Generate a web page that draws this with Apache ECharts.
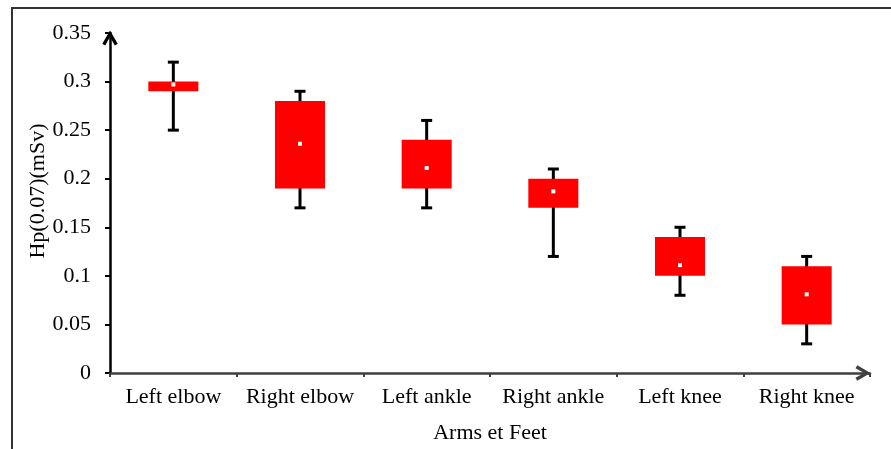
<!DOCTYPE html>
<html>
<head>
<meta charset="utf-8">
<script src="https://cdn.jsdelivr.net/npm/echarts@6/dist/echarts.min.js"></script>
<style>
html,body{margin:0;padding:0;background:#fff;}
#chart{width:891px;height:449px;}
</style>
</head>
<body>
<div id="chart"></div>
<script>
var categories = ['Left elbow', 'Right elbow', 'Left ankle', 'Right ankle', 'Left knee', 'Right knee'];
var minVals  = [0.25, 0.17, 0.17, 0.12, 0.08, 0.03];
var q1Vals   = [0.29, 0.19, 0.19, 0.17, 0.10, 0.05];
var q3Vals   = [0.30, 0.28, 0.24, 0.20, 0.14, 0.11];
var maxVals  = [0.32, 0.29, 0.26, 0.21, 0.15, 0.12];
var meanVals = [0.297, 0.236, 0.211, 0.187, 0.111, 0.081];
var yTicks = { min: 0, max: 0.35, interval: 0.05 };

var seriesData = categories.map(function (c, i) {
  return [i, minVals[i], q1Vals[i], q3Vals[i], maxVals[i], meanVals[i]];
});

var FONT = '"Liberation Serif", "DejaVu Serif", serif';
var chevron = 'path://M0,12 L7,0 L14,12 L11.4,13.6 L7,5.8 L2.6,13.6 Z';

var chart = echarts.init(document.getElementById('chart'), null, { renderer: 'canvas' });
chart.setOption({
  backgroundColor: '#fff',
  animation: false,
  graphic: [{
    type: 'rect',
    shape: { x: 12, y: 8, width: 1000, height: 1000 },
    style: { fill: 'none', stroke: '#333', lineWidth: 2 },
    silent: true, z: -1
  }],
  grid: { left: 110, right: 21, top: 33, bottom: 73 },
  xAxis: {
    type: 'category',
    data: categories,
    boundaryGap: true,
    name: 'Arms et Feet',
    nameLocation: 'middle',
    nameGap: 49,
    nameMoveOverlap: false,
    nameTextStyle: { fontFamily: FONT, fontSize: 22, color: '#000' },
    axisLine: {
      show: true,
      lineStyle: { color: '#404040', width: 2.5 },
      symbol: ['none', chevron],
      symbolSize: [17, 15],
      symbolOffset: [0, -7]
    },
    axisTick: { show: true, length: 4, lineStyle: { color: '#404040', width: 2 }, alignWithLabel: false },
    axisLabel: { fontFamily: FONT, fontSize: 22, color: '#000', margin: 13, interval: 0 },
    splitLine: { show: false }
  },
  yAxis: {
    type: 'value',
    min: yTicks.min,
    max: yTicks.max,
    interval: yTicks.interval,
    name: 'Hp(0.07)(mSv)',
    nameLocation: 'middle',
    nameGap: 61,
    nameMoveOverlap: false,
    nameTextStyle: { fontFamily: FONT, fontSize: 22, color: '#000', padding: [0, 0, 0, 24] },
    axisLine: {
      show: true,
      lineStyle: { color: '#000', width: 2.5 },
      symbol: ['none', chevron],
      symbolSize: [17, 15],
      symbolOffset: [0, -5]
    },
    axisTick: { show: true, length: 5, lineStyle: { color: '#000', width: 2 } },
    axisLabel: {
      fontFamily: FONT, fontSize: 22, color: '#000', margin: 19,
      formatter: function (v) { return String(Math.round(v * 100) / 100); }
    },
    splitLine: { show: false }
  },
  series: [{
    type: 'custom',
    data: seriesData,
    encode: { x: 0, y: [1, 2, 3, 4, 5] },
    renderItem: function (params, api) {
      var idx = api.value(0);
      var pMin = api.coord([idx, api.value(1)]);
      var pQ1 = api.coord([idx, api.value(2)]);
      var pQ3 = api.coord([idx, api.value(3)]);
      var pMax = api.coord([idx, api.value(4)]);
      var pMean = api.coord([idx, api.value(5)]);
      var bandW = api.size([1, 0])[0];
      var boxW = bandW * 0.395;
      var capW = 11;
      var x = pMin[0];
      var black = { stroke: '#000', lineWidth: 3 };
      return {
        type: 'group',
        children: [
          { type: 'line', shape: { x1: x, y1: pMax[1], x2: x, y2: pMin[1] }, style: black },
          { type: 'line', shape: { x1: x - capW / 2, y1: pMax[1], x2: x + capW / 2, y2: pMax[1] }, style: black },
          { type: 'line', shape: { x1: x - capW / 2, y1: pMin[1], x2: x + capW / 2, y2: pMin[1] }, style: black },
          { type: 'rect', shape: { x: x - boxW / 2, y: pQ3[1], width: boxW, height: pQ1[1] - pQ3[1] }, style: { fill: '#ff0000' } },
          { type: 'rect', shape: { x: x - 2, y: pMean[1] - 2, width: 4, height: 4 }, style: { fill: '#fff' } }
        ]
      };
    }
  }]
});
</script>
</body>
</html>
